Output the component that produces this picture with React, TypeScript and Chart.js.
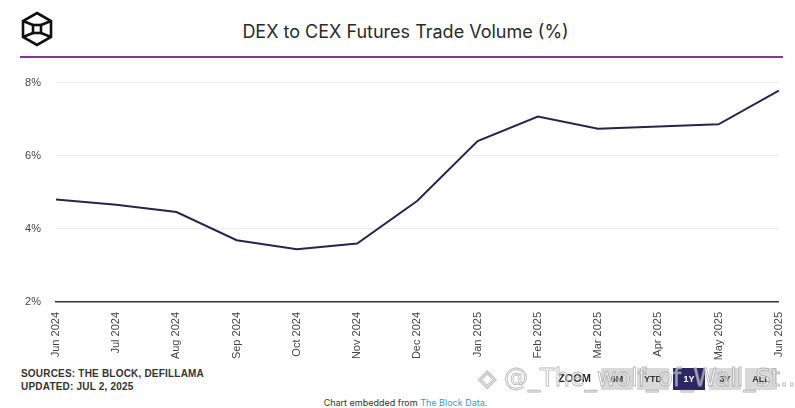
import React, { useEffect, useRef } from "react";
import { Chart, registerables } from "chart.js";

Chart.register(...registerables);

const categories = [
  "Jun 2024", "Jul 2024", "Aug 2024", "Sep 2024", "Oct 2024", "Nov 2024",
  "Dec 2024", "Jan 2025", "Feb 2025", "Mar 2025", "Apr 2025", "May 2025", "Jun 2025",
];
const dexToCexShare = [4.8, 4.66, 4.46, 3.69, 3.44, 3.6, 4.77, 6.4, 7.07, 6.74, 6.8, 6.86, 7.78];
const yTicks = [2, 4, 6, 8];
const zoomButtons = ["6M", "YTD", "1Y", "3Y", "ALL"];
const activeZoom = "1Y";

const TITLE = "DEX to CEX Futures Trade Volume (%)";
const SOURCES = "SOURCES: THE BLOCK, DEFILLAMA";
const UPDATED = "UPDATED: JUL 2, 2025";

function Logo() {
  return (
    <svg width="34" height="36" viewBox="0 0 34 36" style={{ position: "absolute", left: 20, top: 11 }}>
      <g fill="none" stroke="#111" strokeWidth="2.6" strokeLinejoin="miter">
        <polygon points="17,2 31,10 31,26 17,34 3,26 3,10" />
        <rect x="13" y="14" width="8" height="8" />
        <line x1="3" y1="10" x2="13" y2="14" />
        <line x1="31" y1="10" x2="21" y2="14" />
        <line x1="3" y1="26" x2="13" y2="22" />
        <line x1="31" y1="26" x2="21" y2="22" />
      </g>
    </svg>
  );
}

export default function App() {
  const canvasRef = useRef<HTMLCanvasElement | null>(null);

  useEffect(() => {
    if (!canvasRef.current) return;
    const chart = new Chart(canvasRef.current, {
      type: "line",
      data: {
        labels: categories,
        datasets: [
          {
            data: dexToCexShare,
            borderColor: "#27244f",
            borderWidth: 2,
            pointRadius: 0,
            tension: 0,
            fill: false,
          },
        ],
      },
      options: {
        animation: false,
        responsive: false,
        maintainAspectRatio: false,
        layout: { padding: { top: 12, right: 10, left: 0, bottom: 0 } },
        plugins: { legend: { display: false }, tooltip: { enabled: false }, title: { display: false } },
        scales: {
          x: {
            offset: false,
            grid: { display: false, drawTicks: false },
            border: { display: true, color: "#333", width: 1.5 },
            ticks: {
              maxRotation: 90,
              minRotation: 90,
              autoSkip: false,
              padding: 10,
              color: "#444",
              font: { family: "Liberation Sans, Arial, sans-serif", size: 11 },
            },
            afterFit: (s: any) => {
              s.height = 65;
            },
          },
          y: {
            min: 2,
            max: 8,
            afterBuildTicks: (s: any) => {
              s.ticks = yTicks.map((v) => ({ value: v }));
            },
            grid: {
              drawTicks: false,
              color: (ctx: any) => (ctx.tick && ctx.tick.value === 2 ? "rgba(0,0,0,0)" : "#ececec"),
              lineWidth: 1,
            },
            border: { display: false },
            ticks: {
              padding: 15,
              color: "#444",
              font: { family: "Liberation Sans, Arial, sans-serif", size: 11 },
              callback: (v: any) => v + "%",
            },
            afterFit: (s: any) => {
              s.width = 36;
            },
          },
        },
      },
    });
    return () => chart.destroy();
  }, []);

  return (
    <div
      style={{
        position: "absolute",
        left: 0,
        top: 0,
        width: 795,
        height: 408,
        background: "#fff",
        overflow: "hidden",
        fontFamily: "Liberation Sans, Arial, sans-serif",
      }}
    >
      <Logo />
      <div
        style={{
          position: "absolute",
          left: 0,
          width: 811,
          top: 20,
          textAlign: "center",
          fontFamily: "Inter, sans-serif",
          fontSize: 18,
          color: "#2a2a2a",
          lineHeight: "24px",
        }}
      >
        {TITLE}
      </div>
      <div style={{ position: "absolute", left: 20, top: 56, width: 763, height: 2, background: "#8b3593" }} />
      <canvas ref={canvasRef} width={782} height={306} style={{ position: "absolute", left: 20, top: 61 }} />
      <div
        style={{
          position: "absolute",
          left: 21,
          top: 367,
          fontSize: 10,
          fontWeight: "bold",
          color: "#333",
          lineHeight: "13px",
          letterSpacing: 0.2,
        }}
      >
        <div>{SOURCES}</div>
        <div>{UPDATED}</div>
      </div>
      <div
        style={{
          position: "absolute",
          left: 558,
          top: 372,
          fontSize: 11,
          fontWeight: "bold",
          color: "#222",
        }}
      >
        ZOOM
      </div>
      <div style={{ position: "absolute", left: 601, top: 368, display: "flex", gap: 4 }}>
        {zoomButtons.map((b) => (
          <div
            key={b}
            style={{
              width: 32,
              height: 22,
              background: b === activeZoom ? "#2b2763" : "#d9d9d9",
              color: b === activeZoom ? "#fff" : "#333",
              fontSize: 9,
              fontWeight: "bold",
              display: "flex",
              alignItems: "center",
              justifyContent: "center",
            }}
          >
            {b}
          </div>
        ))}
      </div>
      <div
        style={{
          position: "absolute",
          left: 478,
          top: 364,
          fontSize: 24,
          fontFamily: "DejaVu Sans, sans-serif",
          color: "rgba(255,255,255,0.55)",
          WebkitTextStroke: "0.8px rgba(150,150,150,0.7)",
          whiteSpace: "nowrap",
        }}
      >
        ◈ @_The_wolf_of_Wall_St...
      </div>
      <div
        style={{
          position: "absolute",
          left: 0,
          width: 811,
          top: 397,
          textAlign: "center",
          fontFamily: "Inter, sans-serif",
          fontSize: 9,
          color: "#333",
        }}
      >
        Chart embedded from <span style={{ color: "#3b9bbf" }}>The Block Data.</span>
      </div>
    </div>
  );
}
